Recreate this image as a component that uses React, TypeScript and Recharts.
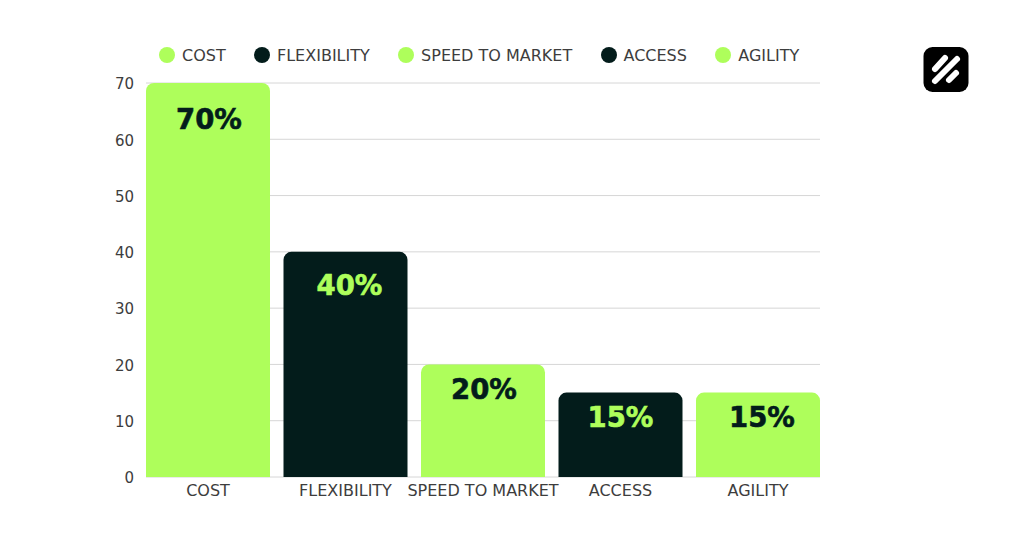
import { Bar, BarChart, CartesianGrid, Cell, LabelList, XAxis, YAxis } from "recharts";

const categories = ["COST", "FLEXIBILITY", "SPEED TO MARKET", "ACCESS", "AGILITY"];
const values = [70, 40, 20, 15, 15];
const yTicks = [0, 10, 20, 30, 40, 50, 60, 70];

const LIME = "#aefe5b";
const DARK = "#031c1b";
const barColors = [LIME, DARK, LIME, DARK, LIME];
const labelColors = [DARK, LIME, DARK, LIME, DARK];
// the value labels are not quite centred in the original
const labelNudgeX = [1, 4, 1, 0, 4];
const labelNudgeY = [36, 33, 25, 24, 24];

const FONT = "'DejaVu Sans', sans-serif";

const data = categories.map((name, i) => ({ name, value: values[i] }));

function LegendRow() {
  return (
    <div
      style={{
        position: "absolute",
        left: 159,
        top: 47,
        display: "flex",
        fontFamily: FONT,
        fontSize: 16,
        color: "#3d3d3d",
        lineHeight: "16px",
      }}
    >
      {categories.map((name, i) => (
        <div key={name} style={{ display: "flex", alignItems: "center", marginRight: 28.3 }}>
          <span style={{ width: 16, height: 16, borderRadius: 8, background: barColors[i], marginRight: 7 }} />
          <span style={{ whiteSpace: "nowrap", position: "relative", top: 1 }}>{name}</span>
        </div>
      ))}
    </div>
  );
}

function ValueLabel(props: any) {
  const { x, y, width, index, value } = props;
  return (
    <text
      x={x + width / 2 + labelNudgeX[index]}
      y={y + labelNudgeY[index]}
      textAnchor="middle"
      dominantBaseline="central"
      fill={labelColors[index]}
      stroke={labelColors[index]}
      strokeWidth={0.6}
      style={{ fontFamily: FONT, fontSize: 27.5, fontWeight: 700 }}
    >
      {value}%
    </text>
  );
}

function Logo() {
  return (
    <svg width={46} height={46} viewBox="0 0 46 46" style={{ position: "absolute", left: 923, top: 46 }}>
      <rect x={0.5} y={1} width={45} height={45} rx={9} fill="#000" />
      <g stroke="#fff" strokeWidth={6} strokeLinecap="round">
        <line x1={12} y1={23} x2={22} y2={12} />
        <line x1={12} y1={35} x2={34} y2={13} />
        <line x1={26} y1={34} x2={33} y2={27} />
      </g>
    </svg>
  );
}

export default function App() {
  return (
    <div style={{ position: "fixed", left: 0, top: 0, width: 1024, height: 536, background: "#fff" }}>
      <BarChart
        width={1024}
        height={536}
        data={data}
        margin={{ top: 83, right: 204, bottom: 0, left: 0 }}
        barCategoryGap={6.75}
      >
        <CartesianGrid stroke="#d6d6d6" vertical={false} />
        <XAxis
          dataKey="name"
          padding={{ left: -6.75, right: -6.75 }}
          axisLine={false}
          tickLine={false}
          interval={0}
          height={59}
          tick={{ fill: "#3d3d3d", fontSize: 16, fontFamily: FONT }}
        />
        <YAxis
          width={146}
          domain={[0, 70]}
          ticks={yTicks}
          axisLine={false}
          tickLine={false}
          tickMargin={6}
          tick={{ fill: "#3d3d3d", fontSize: 15, fontFamily: FONT, dy: 1 }}
        />
        <Bar dataKey="value" radius={[8, 8, 0, 0]} isAnimationActive={false}>
          {data.map((d, i) => (
            <Cell key={d.name} fill={barColors[i]} />
          ))}
          <LabelList dataKey="value" content={<ValueLabel />} />
        </Bar>
      </BarChart>
      <LegendRow />
      <Logo />
    </div>
  );
}
